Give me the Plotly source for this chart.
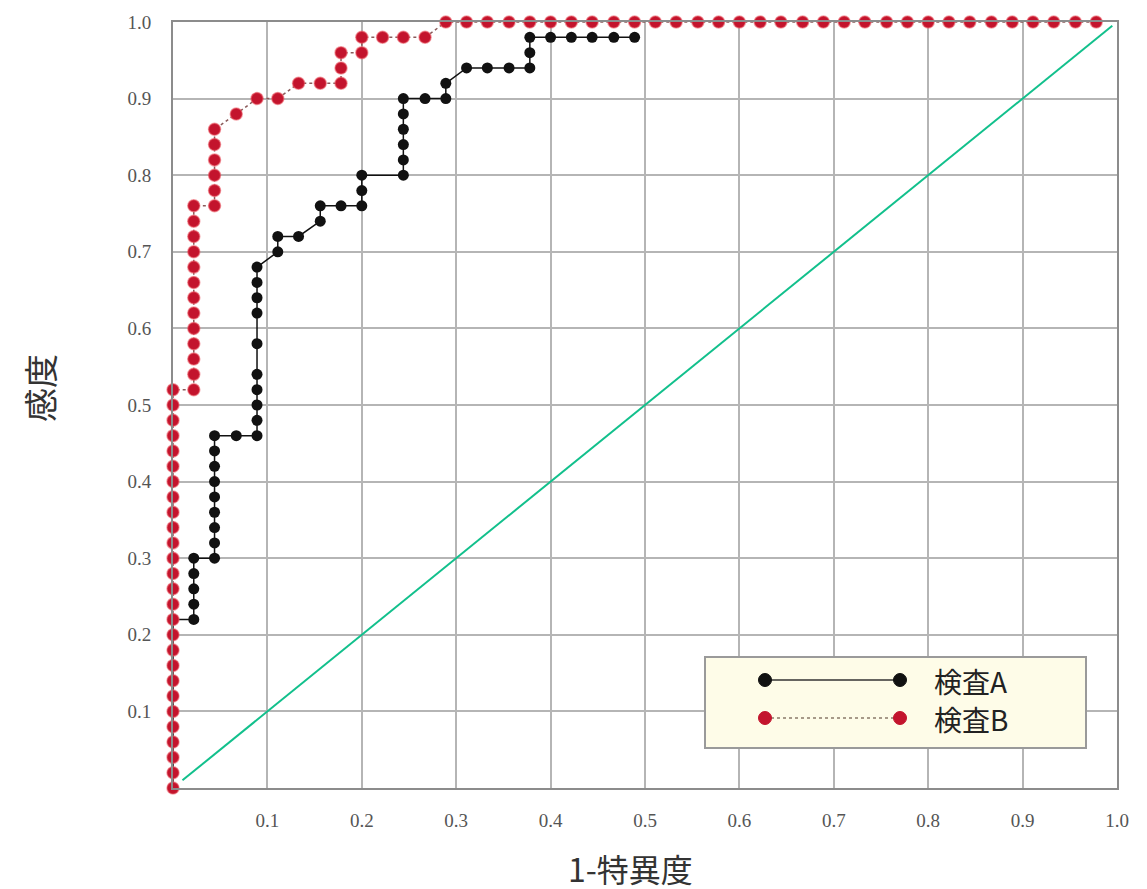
import plotly.graph_objects as go

# ---- data ----
# Test B (red)
fpr_b = [0, 0, 0, 0, 0, 0, 0, 0, 0, 0, 0, 0, 0, 0, 0, 0, 0, 0, 0, 0, 0, 0, 0, 0, 0, 0, 0,
         0.022, 0.022, 0.022, 0.022, 0.022, 0.022, 0.022, 0.022, 0.022, 0.022, 0.022, 0.022, 0.022,
         0.044, 0.044, 0.044, 0.044, 0.044, 0.044,
         0.067, 0.089, 0.111, 0.133, 0.156, 0.178, 0.178, 0.178, 0.2, 0.2, 0.222, 0.244, 0.267,
         0.289, 0.311, 0.333, 0.356, 0.378, 0.4, 0.422, 0.444, 0.467, 0.489, 0.511, 0.533,
         0.556, 0.578, 0.6, 0.622, 0.644, 0.667, 0.689, 0.711, 0.733, 0.756, 0.778, 0.8,
         0.822, 0.844, 0.867, 0.889, 0.911, 0.933, 0.956, 0.978]
tpr_b = [0.00, 0.02, 0.04, 0.06, 0.08, 0.10, 0.12, 0.14, 0.16, 0.18, 0.20, 0.22, 0.24, 0.26,
         0.28, 0.30, 0.32, 0.34, 0.36, 0.38, 0.40, 0.42, 0.44, 0.46, 0.48, 0.50, 0.52,
         0.52, 0.54, 0.56, 0.58, 0.60, 0.62, 0.64, 0.66, 0.68, 0.70, 0.72, 0.74, 0.76,
         0.76, 0.78, 0.80, 0.82, 0.84, 0.86,
         0.88, 0.90, 0.90, 0.92, 0.92, 0.92, 0.94, 0.96, 0.96, 0.98, 0.98, 0.98, 0.98,
         1.0, 1.0, 1.0, 1.0, 1.0, 1.0, 1.0, 1.0, 1.0, 1.0, 1.0, 1.0,
         1.0, 1.0, 1.0, 1.0, 1.0, 1.0, 1.0, 1.0, 1.0, 1.0, 1.0, 1.0,
         1.0, 1.0, 1.0, 1.0, 1.0, 1.0, 1.0, 1.0]

# Test A (black)
fpr_a = [0, 0, 0, 0, 0, 0, 0, 0, 0, 0, 0, 0,
         0.022, 0.022, 0.022, 0.022, 0.022,
         0.044, 0.044, 0.044, 0.044, 0.044, 0.044, 0.044, 0.044, 0.044,
         0.067,
         0.089, 0.089, 0.089, 0.089, 0.089, 0.089, 0.089, 0.089, 0.089, 0.089,
         0.111, 0.111, 0.133, 0.156, 0.156, 0.178, 0.2, 0.2, 0.2,
         0.244, 0.244, 0.244, 0.244, 0.244, 0.244, 0.267, 0.289, 0.289,
         0.311, 0.333, 0.356, 0.378, 0.378, 0.378, 0.4, 0.422, 0.444, 0.467, 0.489]
tpr_a = [0.00, 0.02, 0.04, 0.06, 0.08, 0.10, 0.12, 0.14, 0.16, 0.18, 0.20, 0.22,
         0.22, 0.24, 0.26, 0.28, 0.30,
         0.30, 0.32, 0.34, 0.36, 0.38, 0.40, 0.42, 0.44, 0.46,
         0.46,
         0.46, 0.48, 0.50, 0.52, 0.54, 0.58, 0.62, 0.64, 0.66, 0.68,
         0.70, 0.72, 0.72, 0.74, 0.76, 0.76, 0.76, 0.78, 0.80,
         0.80, 0.82, 0.84, 0.86, 0.88, 0.90, 0.90, 0.90, 0.92,
         0.94, 0.94, 0.94, 0.94, 0.96, 0.98, 0.98, 0.98, 0.98, 0.98, 0.98]

# reference diagonal
diag_x = [0.01, 0.995]
diag_y = [0.01, 0.995]

tick_vals = [0.1, 0.2, 0.3, 0.4, 0.5, 0.6, 0.7, 0.8, 0.9, 1.0]
tick_text = ["0.1", "0.2", "0.3", "0.4", "0.5", "0.6", "0.7", "0.8", "0.9", "1.0"]
legend_labels = ["検査A", "検査B"]
x_title = "1-特異度"
y_title = "感度"

BLACK = "#111111"
RED = "#c3142d"
GREEN = "#12c08c"
CJK = "Noto Sans CJK JP"

fig = go.Figure()
fig.add_trace(go.Scatter(x=diag_x, y=diag_y, mode="lines",
                         line=dict(color=GREEN, width=2), showlegend=False, hoverinfo="skip"))
fig.add_trace(go.Scatter(x=fpr_a, y=tpr_a, mode="lines+markers", name=legend_labels[0],
                         line=dict(color=BLACK, width=1.5),
                         marker=dict(color=BLACK, size=11), showlegend=False, cliponaxis=False))
fig.add_trace(go.Scatter(x=fpr_b, y=tpr_b, mode="lines+markers", name=legend_labels[1],
                         line=dict(color="#8a5a5a", width=1.5, dash="dot"),
                         marker=dict(color=RED, size=12,
                                     line=dict(color="rgba(235,90,100,0.55)", width=1.5)),
                         showlegend=False, cliponaxis=False))

# ---- plot area on screen (page has an 8px body offset) ----
OFF = 8
W, H = 1147, 889
X0, X1 = 173, 1117
Y0, Y1 = 788, 22
def px(v):
    return (v - X0) / (X1 - X0)
def py(v):
    return (Y0 - v) / (Y0 - Y1)

shapes = [
    dict(type="rect", xref="paper", yref="paper", x0=px(705), x1=px(1086), y0=py(748), y1=py(657),
         fillcolor="#fefce8", line=dict(color="#9a9a9a", width=2), layer="above"),
    dict(type="line", xref="paper", yref="paper", x0=px(765), x1=px(900), y0=py(680), y1=py(680),
         line=dict(color="#333333", width=1.5), layer="above"),
    dict(type="line", xref="paper", yref="paper", x0=px(765), x1=px(900), y0=py(718), y1=py(718),
         line=dict(color="#8a7a6a", width=1.5, dash="dot"), layer="above"),
]
for cx, cy, col in [(765, 680, BLACK), (900, 680, BLACK), (765, 718, RED), (900, 718, RED)]:
    shapes.append(dict(type="circle", xref="paper", yref="paper",
                       xsizemode="pixel", ysizemode="pixel",
                       xanchor=px(cx), yanchor=py(cy), x0=-6.5, x1=6.5, y0=-6.5, y1=6.5,
                       fillcolor=col, line=dict(color=col, width=1), layer="above"))

annotations = [
    dict(text=legend_labels[0], xref="paper", yref="paper", x=px(932), y=py(681),
         xanchor="left", yanchor="middle", showarrow=False,
         font=dict(family=CJK, size=28, color="#222222")),
    dict(text=legend_labels[1], xref="paper", yref="paper", x=px(932), y=py(719),
         xanchor="left", yanchor="middle", showarrow=False,
         font=dict(family=CJK, size=28, color="#222222")),
    dict(text=x_title, xref="paper", yref="paper", x=px(630), y=py(868),
         xanchor="center", yanchor="middle", showarrow=False,
         font=dict(family=CJK, size=32, color="#333333")),
    dict(text=y_title, xref="paper", yref="paper", x=px(40), y=py(388),
         xanchor="center", yanchor="middle", showarrow=False, textangle=-90,
         font=dict(family=CJK, size=34, color="#333333")),
]

axis_common = dict(
    range=[0, 1.0], tickvals=tick_vals, ticktext=tick_text,
    showgrid=True, gridcolor="#b5b5b5", gridwidth=2,
    showline=True, linecolor="#8c8c8c", linewidth=2, mirror=True,
    zeroline=False, ticks="", automargin=False,
    tickfont=dict(family="Liberation Serif", size=19, color="#555555"),
)

fig.update_layout(
    width=W, height=H,
    margin=dict(l=X0 - OFF, r=W + OFF - X1, t=Y1 - OFF, b=H + OFF - Y0),
    paper_bgcolor="white", plot_bgcolor="white",
    xaxis=dict(**axis_common, ticklabelstandoff=14),
    yaxis=dict(**axis_common, ticklabelstandoff=16),
    shapes=shapes, annotations=annotations, showlegend=False,
)

fig.write_html("out.html")
